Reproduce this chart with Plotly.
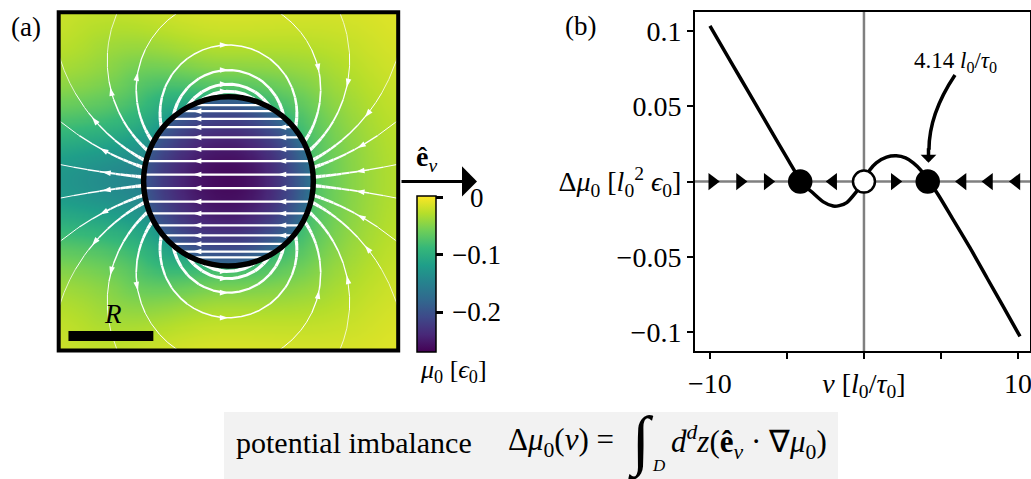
import numpy as np
import plotly.graph_objects as go

FIG_W, FIG_H = 1031, 479
FONT = "Liberation Serif"

# ---------------- panel (b): potential imbalance curve ----------------
v_vals = [-10.0, -9.0, -8.0, -7.0, -6.0, -5.0, -4.42, -4.14, -3.4, -2.64, -2.0, -1.6, -1.12, -0.45, 0.0,
          0.39, 0.8, 1.47, 2.1, 2.7, 3.2, 3.7, 4.14, 4.61, 5.8, 6.88, 8.0, 9.0, 10.13]
dmu_vals = [0.1035, 0.086, 0.0684, 0.0508, 0.0333, 0.0157, 0.0056, 0.0, -0.0068, -0.0135, -0.0163, -0.0160, -0.0140, -0.0062, 0.0,
            0.0078, 0.0125, 0.0163, 0.0172, 0.0158, 0.0125, 0.0075, 0.0, -0.0055, -0.0255, -0.0440, -0.0643, -0.0823, -0.103]
fixed_v = [-4.14, 0.0, 4.14]
fixed_dmu = [0.0, 0.0, 0.0]
fixed_stable = [True, False, True]
flow_arrow_v = [-9.85, -8.05, -6.25, -2.0, 2.0, 6.4, 8.12, 9.9]
flow_arrow_dir = [1, 1, 1, -1, 1, -1, -1, -1]
xb_ticks = [-10, -5, 0, 5, 10]
xb_ticktext = ["−10", "", "<i>v</i> [<i>l</i><sub>0</sub>/<i>τ</i><sub>0</sub>]", "", "10"]
yb_ticks = [-0.1, -0.05, 0, 0.05, 0.1]
yb_ticktext = ["−0.1", "−0.05", "Δ<i>μ</i><sub>0</sub> [<i>l</i><sub>0</sub><sup>2</sup> <i>ϵ</i><sub>0</sub>]", "0.05", "0.1"]
vel_label = "4.14 <i>l</i><sub>0</sub>/<i>τ</i><sub>0</sub>"

# ---------------- panel (a): field around the droplet (units of R) ----------------
outer_line_y0 = [0.05, 0.16, 0.24, 0.35, 0.46, 0.62, 0.76, 0.87, 0.94]
inner_line_y = [0.08, 0.24, 0.38, 0.52, 0.64, 0.74, 0.83, 0.9]
inner_arrow_x = [-0.42, 0.58]
mu_dir_deg = [0, 45, 90, 135, 180]
mu_out_at_R = [-0.073, -0.088, -0.09, -0.125, -0.149]
mu_out_at_2R = [-0.027, -0.025, -0.012, -0.042, -0.125]
mu_in_center = -0.262
mu_in_edge = [-0.159, -0.167, -0.176, -0.185, -0.193]
cbar_ticks = [0, -0.1, -0.2]
cbar_ticktext = ["0", "−0.1", "−0.2"]
cmin, cmax = -0.269, 0.0035


def px(x):
    return x / FIG_W


def py(y):
    return 1 - y / FIG_H


# --- potential field built from the anchor values read along 5 directions ---
def ang_interp(th_deg, vals):
    nodes = np.asarray(mu_dir_deg, float)
    vals = np.asarray(vals, float)
    i = np.clip(np.searchsorted(nodes, th_deg, side="right") - 1, 0, len(nodes) - 2)
    f = (th_deg - nodes[i]) / (nodes[i + 1] - nodes[i])
    s = (1 - np.cos(np.pi * np.clip(f, 0, 1))) / 2
    return vals[i] * (1 - s) + vals[i + 1] * s


g = np.linspace(-2, 2, 321)
GX, GY = np.meshgrid(g, g)
RR = np.hypot(GX, GY)
THd = np.degrees(np.abs(np.arctan2(GY, GX)))
logR = ang_interp(THd, np.log(-np.array(mu_out_at_R)))
kdec = ang_interp(THd, np.log(np.array(mu_out_at_R) / np.array(mu_out_at_2R)))
mu_out = -np.exp(logR) * np.exp(-kdec * (RR - 1))
edge = ang_interp(THd, mu_in_edge)
mu_in = mu_in_center + (edge - mu_in_center) * RR ** 2
Z = np.where(RR < 1, mu_in, mu_out)

fig = go.Figure()
fig.add_trace(go.Heatmap(
    x=g, y=g, z=Z, colorscale="Viridis", zmin=cmin, zmax=cmax, zsmooth=False,
    hoverinfo="skip", xaxis="x", yaxis="y",
    colorbar=dict(x=px(416.7), xanchor="left", y=py(351.7), yanchor="bottom",
                  len=156 / FIG_H, lenmode="fraction", thickness=19, thicknessmode="pixels",
                  xpad=0, ypad=0, outlinewidth=1.5, outlinecolor="black",
                  ticks="outside", ticklen=7, tickwidth=3, tickcolor="black",
                  tickvals=cbar_ticks, ticktext=cbar_ticktext, showticklabels=False),
))

# --- streamlines of the dipole-like flux ---
def flux(x, y):
    r2 = x * x + y * y
    return (1.0 - 2.0 * x * x / r2) / r2, (-2.0 * x * y / r2) / r2


bins = {}
arr_x, arr_y, arr_a = [], [], []


def add_poly(xs, ys, widths):
    bw = np.round(np.asarray(widths) * 4) / 4
    n = len(bw)
    start = 0
    for i in range(1, n + 1):
        if i == n or bw[i] != bw[start]:
            b = float(bw[start])
            lx, ly = bins.setdefault(b, ([], []))
            lx.extend(list(xs[start:i + 1]) + [None])
            ly.extend(list(ys[start:i + 1]) + [None])
            start = i


t = np.linspace(0, 2 * np.pi, 4000)
for y0 in outer_line_y0:
    for s in (1, -1):
        c = s / (2 * y0)
        X = abs(c) * np.sin(t)
        Y = c * (1 - np.cos(t))
        mask = (X ** 2 + Y ** 2 > 1.0) & (np.abs(X) <= 1.995) & (np.abs(Y) <= 1.995)
        idx = np.flatnonzero(mask)
        if len(idx) < 2:
            continue
        runs = np.split(idx, np.flatnonzero(np.diff(idx) > 1) + 1)
        for run in runs:
            if len(run) < 3:
                continue
            xs, ys = X[run], Y[run]
            mx, my = (xs[1:] + xs[:-1]) / 2, (ys[1:] + ys[:-1]) / 2
            w = np.clip(3.8 / (mx ** 2 + my ** 2), 0.7, 4.0)
            add_poly(xs, ys, w)
            seg = np.hypot(np.diff(xs), np.diff(ys))
            cum = np.concatenate([[0], np.cumsum(seg)])
            if cum[-1] > 0.25:
                j = int(np.searchsorted(cum, cum[-1] * 0.5))
                u, vv = flux(xs[j], ys[j])
                arr_x.append(xs[j]); arr_y.append(ys[j])
                arr_a.append(float(np.degrees(np.arctan2(u, vv))))

for y0 in inner_line_y:
    for s in (1, -1):
        yy = s * y0
        half = np.sqrt(1 - yy * yy)
        add_poly(np.array([-half, half]), np.array([yy, yy]), [2.2])
        for ax_ in inner_arrow_x:
            if abs(ax_) < half - 0.1:
                arr_x.append(ax_); arr_y.append(yy); arr_a.append(-90.0)

for b, (lx, ly) in sorted(bins.items()):
    fig.add_trace(go.Scatter(x=lx, y=ly, mode="lines", line=dict(color="white", width=b),
                             hoverinfo="skip", showlegend=False, xaxis="x", yaxis="y"))
fig.add_trace(go.Scatter(x=arr_x, y=arr_y, mode="markers",
                         marker=dict(symbol="arrow", size=9, angle=arr_a, color="white", line=dict(width=0)),
                         hoverinfo="skip", showlegend=False, xaxis="x", yaxis="y"))

# ---------------- panel (b) traces ----------------
fig.add_trace(go.Scatter(x=v_vals, y=dmu_vals, mode="lines",
                         line=dict(color="black", width=3.5, shape="spline", smoothing=0.8),
                         hoverinfo="skip", showlegend=False, xaxis="x2", yaxis="y2"))
fig.add_trace(go.Scatter(x=flow_arrow_v, y=[0] * len(flow_arrow_v), mode="markers",
                         marker=dict(symbol=["triangle-right" if d > 0 else "triangle-left" for d in flow_arrow_dir],
                                     size=15, color="black", line=dict(width=0)),
                         hoverinfo="skip", showlegend=False, xaxis="x2", yaxis="y2"))
fig.add_trace(go.Scatter(x=fixed_v, y=fixed_dmu, mode="markers", cliponaxis=False,
                         marker=dict(size=22, color=["black" if st else "white" for st in fixed_stable],
                                     line=dict(color="black", width=2.5)),
                         hoverinfo="skip", showlegend=False, xaxis="x2", yaxis="y2"))

shapes = [
    # panel (a)
    dict(type="circle", xref="x", yref="y", x0=-1, y0=-1, x1=1, y1=1, line=dict(color="black", width=5.5)),
    dict(type="rect", xref="x domain", yref="y domain", x0=0, y0=0, x1=1, y1=1, line=dict(color="black", width=4)),
    dict(type="rect", xref="x", yref="y", x0=-1.885, x1=-0.885, y0=-1.888, y1=-1.77,
         fillcolor="black", line=dict(width=0)),
    # panel (b)
    dict(type="line", xref="x2", yref="y2 domain", x0=0, x1=0, y0=0, y1=1,
         line=dict(color="#808080", width=2.5), layer="below"),
    dict(type="line", xref="x2 domain", yref="y2", x0=0, x1=1, y0=0, y1=0,
         line=dict(color="#808080", width=2.5), layer="below"),
    dict(type="path", xref="x2", yref="y2", path="M5.91,0.0709 Q4.22,0.045 4.22,0.0211",
         line=dict(color="black", width=3.5)),
    # formula box
    dict(type="rect", xref="paper", yref="paper", x0=px(224), x1=px(838), y0=0, y1=py(412),
         fillcolor="#f2f2f2", line=dict(width=0), layer="below"),
]

tf = dict(family=FONT, color="black")


def ann(text, x, y, size, xanchor="center", yanchor="middle", **kw):
    d = dict(text=text, x=px(x), y=py(y), xref="paper", yref="paper", showarrow=False,
             xanchor=xanchor, yanchor=yanchor, font=dict(size=size, **tf))
    d.update(kw)
    return d


annotations = [
    ann("(a)", 26, 27, 27),
    ann("(b)", 580, 26, 27),
    dict(text="<i>R</i>", x=-1.366, y=-1.574, xref="x", yref="y", showarrow=False,
         xanchor="center", yanchor="middle", font=dict(size=27, **tf)),
    ann("<b>ê</b><sub><i>v</i></sub>", 426, 158, 28),
    dict(text="", x=px(477), y=py(181.4), xref="paper", yref="paper", ax=-77, ay=0,
         axref="pixel", ayref="pixel", showarrow=True, arrowhead=1, arrowsize=1.67, arrowwidth=3,
         arrowcolor="black"),
    ann("<i>μ</i><sub>0</sub> [<i>ϵ</i><sub>0</sub>]", 453, 371, 26),
    ann(cbar_ticktext[0], 476.5, 198, 27),
    ann(cbar_ticktext[1], 476.5, 255, 27),
    ann(cbar_ticktext[2], 476.5, 312, 27),
    ann(vel_label, 955, 62, 23),
    dict(text="", x=4.19, y=0.0126, xref="x2", yref="y2", ax=0, ay=-16, axref="pixel", ayref="pixel",
         showarrow=True, arrowhead=1, arrowsize=0.75, arrowwidth=3.5, arrowcolor="black"),
    ann("potential imbalance", 234, 442, 30, xanchor="left"),
    ann("Δ<i>μ</i><sub>0</sub>(<i>v</i>) =", 506, 442, 31, xanchor="left"),
    ann("∫", 641, 441, 66),
    ann("<i>D</i>", 659, 465, 17),
    ann("<i>d</i><sup><i>d</i></sup><i>z</i>(<b>ê</b><sub><i>v</i></sub> · ∇<i>μ</i><sub>0</sub>)",
        669, 442, 31, xanchor="left"),
]

hid = dict(visible=False, showgrid=False, zeroline=False, range=[-2, 2], automargin=False)
fig.update_layout(
    template="none",
    width=FIG_W, height=FIG_H,
    margin=dict(l=0, r=0, t=0, b=0),
    paper_bgcolor="white", plot_bgcolor="white",
    showlegend=False,
    xaxis=dict(domain=[px(58.7), px(398.2)], **hid),
    yaxis=dict(domain=[py(350.5), py(12.2)], **hid),
    xaxis2=dict(domain=[px(695), px(1030)], range=[-10.97, 10.78], anchor="y2",
                showgrid=False, zeroline=False, showline=True, mirror=True, linecolor="black", linewidth=2,
                ticks="outside", ticklen=6, tickwidth=2, tickcolor="black",
                tickmode="array", tickvals=xb_ticks, ticktext=xb_ticktext, ticklabeloverflow="allow",
                tickfont=dict(size=28, **tf), automargin=False),
    yaxis2=dict(domain=[py(351), py(12)], range=[-0.1127, 0.1128], anchor="x2",
                showgrid=False, zeroline=False, showline=True, mirror=True, linecolor="black", linewidth=2,
                ticks="outside", ticklen=6, tickwidth=2, tickcolor="black",
                tickmode="array", tickvals=yb_ticks, ticktext=yb_ticktext, ticklabeloverflow="allow",
                tickfont=dict(size=28, **tf), automargin=False),
    shapes=shapes,
    annotations=annotations,
)

fig.write_html("out.html")
